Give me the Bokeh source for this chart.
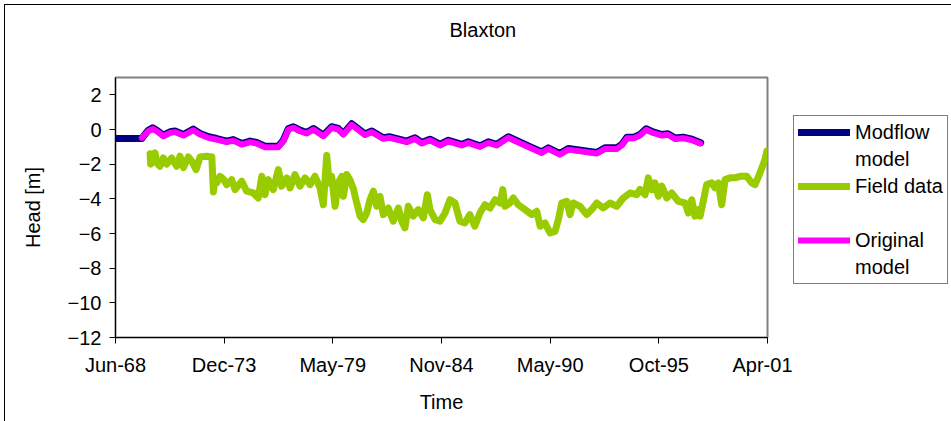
import pandas as pd
from bokeh.plotting import figure
from bokeh.layouts import row
from bokeh.models import Range1d, FixedTicker, Legend, LegendItem, ColumnDataSource
from bokeh.embed import file_html
from bokeh.resources import INLINE

title_text = "Blaxton"
x_label = "Time"
y_label = "Head [m]"

tick_dates = ["1968-06-13", "1973-12-02", "1979-05-25", "1984-11-15",
              "1990-05-08", "1995-10-29", "2001-04-19"]
tick_labels = ["Jun-68", "Dec-73", "May-79", "Nov-84", "May-90", "Oct-95", "Apr-01"]
y_ticks = [-12, -10, -8, -6, -4, -2, 0, 2]

# legend rows: (text, series) ; series None = continuation line / blank row
legend_rows = [("Modflow", "modflow"), ("model", None), ("Field data", "field"),
               (" ", None), ("Original", "original"), ("model", None)]

# times in decimal years, heads in m
orig_t = [1969.77, 1970.10, 1970.32, 1970.53, 1970.86, 1971.20, 1971.45, 1971.87, 1972.37,
          1972.71, 1973.13, 1973.55, 1974.05, 1974.38, 1974.81, 1975.23, 1975.56, 1975.98,
          1976.65, 1976.90, 1977.16, 1977.41, 1977.74, 1978.08, 1978.42, 1978.92, 1979.34,
          1979.67, 1979.93, 1980.35, 1981.02, 1981.36, 1981.94, 1982.28, 1983.12, 1983.54,
          1983.88, 1984.29, 1984.80, 1985.22, 1985.89, 1986.22, 1986.81, 1987.23, 1987.65,
          1988.24, 1989.08, 1989.92, 1990.25, 1990.84, 1991.26, 1992.69, 1993.11, 1993.71,
          1993.97, 1994.22, 1994.57, 1994.87, 1995.18, 1995.53, 1995.98, 1996.28, 1996.64,
          1997.04, 1997.49, 1997.90]
orig_v = [-0.48, -0.10, 0.04, -0.10, -0.39, -0.19, -0.15, -0.35, -0.04,
          -0.29, -0.48, -0.58, -0.73, -0.64, -0.87, -0.73, -0.81, -1.02,
          -1.02, -0.68, 0.00, 0.10, -0.10, -0.23, 0.00, -0.39, 0.10,
          0.00, -0.29, 0.27, -0.32, -0.15, -0.54, -0.48, -0.73, -0.54,
          -0.81, -0.62, -0.92, -0.68, -0.92, -0.77, -1.00, -0.77, -0.92,
          -0.48, -0.92, -1.35, -1.12, -1.45, -1.16, -1.39, -1.12, -1.12,
          -0.90, -0.50, -0.50, -0.35, -0.02, -0.20, -0.35, -0.30, -0.55,
          -0.50, -0.62, -0.80]

modf_t = [1968.45, 1969.77, 1970.10, 1970.32, 1970.53, 1970.86, 1971.20, 1971.45, 1971.87,
          1972.37, 1972.71, 1973.13, 1973.55, 1974.05, 1974.38, 1974.81, 1975.23, 1975.56,
          1975.98, 1976.65, 1976.90, 1977.16, 1977.41, 1977.74, 1978.08, 1978.42, 1978.92,
          1979.34, 1979.67, 1979.93, 1980.35, 1981.02, 1981.36, 1981.94, 1982.28, 1983.12,
          1983.54, 1983.88, 1984.29, 1984.80, 1985.22, 1985.89, 1986.22, 1986.81, 1987.23,
          1987.65, 1988.24, 1989.08, 1989.92, 1990.25, 1990.84, 1991.26, 1992.69, 1993.11,
          1993.71, 1993.97, 1994.22, 1994.57, 1994.87, 1995.18, 1995.53, 1995.98, 1996.28,
          1996.64, 1997.04, 1997.49, 1997.93]
modf_v = [-0.52, -0.52, -0.04, 0.10, -0.04, -0.33, -0.13, -0.09, -0.29,
          0.02, -0.23, -0.42, -0.52, -0.67, -0.58, -0.81, -0.67, -0.75,
          -0.96, -0.96, -0.62, 0.06, 0.16, -0.04, -0.17, 0.06, -0.33,
          0.16, 0.06, -0.23, 0.33, -0.26, -0.09, -0.48, -0.42, -0.67,
          -0.48, -0.75, -0.56, -0.86, -0.62, -0.86, -0.71, -0.94, -0.71,
          -0.86, -0.42, -0.86, -1.29, -1.06, -1.39, -1.10, -1.33, -1.06,
          -1.06, -0.84, -0.44, -0.44, -0.29, 0.04, -0.14, -0.29, -0.24,
          -0.49, -0.44, -0.56, -0.76]

field_t = [1970.19, 1970.22, 1970.44, 1970.53, 1970.69, 1970.86, 1971.03, 1971.28, 1971.53,
           1971.70, 1971.87, 1972.12, 1972.29, 1972.51, 1972.71, 1973.04, 1973.30, 1973.38,
           1973.45, 1973.55, 1973.71, 1973.88, 1974.05, 1974.30, 1974.47, 1974.81, 1975.06,
           1975.39, 1975.64, 1975.82, 1975.98, 1976.15, 1976.40, 1976.65, 1976.82, 1977.08,
           1977.24, 1977.49, 1977.74, 1978.00, 1978.25, 1978.50, 1978.75, 1978.92, 1979.09,
           1979.22, 1979.34, 1979.51, 1979.67, 1979.85, 1979.93, 1980.10, 1980.26, 1980.43,
           1980.60, 1980.77, 1980.93, 1981.10, 1981.27, 1981.44, 1981.61, 1981.77, 1981.94,
           1982.19, 1982.44, 1982.70, 1982.87, 1983.03, 1983.20, 1983.45, 1983.70, 1983.96,
           1984.16, 1984.29, 1984.55, 1984.80, 1985.05, 1985.30, 1985.55, 1985.80, 1986.05,
           1986.30, 1986.55, 1986.81, 1987.06, 1987.32, 1987.57, 1987.82, 1987.96, 1988.07,
           1988.32, 1988.49, 1988.74, 1989.08, 1989.42, 1989.67, 1989.84, 1990.09, 1990.34,
           1990.59, 1990.76, 1990.93, 1991.18, 1991.35, 1991.51, 1991.85, 1992.19, 1992.44,
           1992.69, 1993.02, 1993.36, 1993.70, 1994.03, 1994.37, 1994.71, 1994.87, 1995.13,
           1995.29, 1995.46, 1995.63, 1995.80, 1995.97, 1996.22, 1996.47, 1996.80, 1997.14,
           1997.31, 1997.48, 1997.64, 1997.81, 1997.90, 1998.06, 1998.23, 1998.49, 1998.65,
           1998.82, 1998.99, 1999.16, 1999.41, 1999.66, 1999.91, 2000.25, 2000.50, 2000.67,
           2000.92, 2001.17, 2001.26]
field_v = [-1.40, -2.00, -1.35, -1.93, -2.12, -1.64, -2.00, -1.64, -2.12,
           -1.54, -2.20, -1.58, -1.83, -2.31, -1.58, -1.54, -1.58, -3.60,
           -2.90, -3.08, -2.70, -2.85, -3.18, -2.89, -3.47, -2.99, -3.56,
           -3.66, -3.95, -2.70, -3.76, -2.89, -3.47, -2.31, -3.27, -2.79,
           -3.37, -2.60, -3.27, -2.79, -3.18, -2.70, -3.37, -4.34, -1.50,
           -3.08, -2.70, -4.43, -3.08, -2.70, -3.85, -2.60, -2.90, -3.40,
           -4.24, -5.00, -5.20, -4.82, -4.05, -3.56, -4.43, -3.85, -4.91,
           -4.53, -5.29, -4.53, -5.29, -5.68, -4.43, -5.00, -4.62, -5.10,
           -3.76, -4.62, -5.20, -5.29, -4.82, -4.05, -4.24, -5.29, -5.39,
           -4.91, -5.58, -4.82, -4.34, -4.53, -4.05, -4.24, -3.47, -4.43,
           -4.24, -3.95, -4.34, -4.62, -4.91, -4.72, -5.58, -5.39, -5.97,
           -5.88, -5.20, -4.24, -4.14, -4.91, -4.24, -4.43, -4.91, -4.62,
           -4.24, -4.53, -4.24, -4.43, -3.95, -3.66, -3.76, -3.45, -3.76,
           -2.79, -3.47, -3.08, -3.85, -3.27, -3.95, -3.66, -4.14, -4.24,
           -4.82, -4.05, -5.00, -4.62, -5.00, -4.14, -3.18, -3.08, -3.37,
           -3.08, -4.34, -2.89, -2.79, -2.79, -2.70, -2.70, -3.08, -3.18,
           -2.50, -1.73, -1.25]


def to_dt(years):
    out = []
    for y in years:
        yi = int(y)
        start = pd.Timestamp(yi, 1, 1)
        end = pd.Timestamp(yi + 1, 1, 1)
        out.append(start + (end - start) * (y - yi))
    return out


FONT = "Liberation Sans"
FS = "20px"
styles_by_series = {
    "modflow": dict(line_color="#000080", line_width=7),
    "field": dict(line_color="#99CC00", line_width=7),
    "original": dict(line_color="#FF00FF", line_width=6),
}

p = figure(width=787, height=416, x_axis_type="datetime",
           output_backend="svg", toolbar_location=None,
           x_range=Range1d(pd.Timestamp(tick_dates[0]), pd.Timestamp(tick_dates[-1])),
           y_range=Range1d(-12, 3),
           min_border_left=110, min_border_right=25,
           min_border_top=72, min_border_bottom=84)

p.background_fill_color = "white"
p.border_fill_color = "white"
p.outline_line_color = "#808080"
p.outline_line_width = 2
p.xgrid.visible = False
p.ygrid.visible = False

# title (a blank second line lifts it towards the top of the chart area)
p.title.text = title_text + "\n "
p.title.text_font = FONT
p.title.text_font_size = FS
p.title.text_font_style = "normal"
p.title.text_color = "black"
p.title.align = "left"
p.title.offset = 334
p.title.vertical_align = "top"
p.title.standoff = 26

tick_ms = [int(pd.Timestamp(d).value // 10**6) for d in tick_dates]
p.xaxis.ticker = FixedTicker(ticks=tick_ms)
p.xaxis.major_label_overrides = {t: lab for t, lab in zip(tick_ms, tick_labels)}
p.yaxis.ticker = FixedTicker(ticks=y_ticks)

for ax in (p.xaxis[0], p.yaxis[0]):
    ax.axis_line_color = "black"
    ax.axis_line_width = 1
    ax.major_tick_line_color = "black"
    ax.major_tick_in = 0
    ax.major_tick_out = 6
    ax.minor_tick_line_color = None
    ax.major_label_text_font = FONT
    ax.major_label_text_font_size = FS
    ax.major_label_text_color = "black"
    ax.axis_label_text_font = FONT
    ax.axis_label_text_font_size = FS
    ax.axis_label_text_font_style = "normal"
    ax.axis_label_text_color = "black"

p.xaxis.axis_label = x_label
p.yaxis.axis_label = y_label
p.xaxis.major_label_standoff = 10
p.xaxis.axis_label_standoff = 12
p.yaxis.major_label_standoff = 8
p.yaxis.axis_label_standoff = 21

src_m = ColumnDataSource(dict(x=to_dt(modf_t), y=modf_v))
src_f = ColumnDataSource(dict(x=to_dt(field_t), y=field_v))
src_o = ColumnDataSource(dict(x=to_dt(orig_t), y=orig_v))

p.line("x", "y", source=src_m, line_join="round", line_cap="round", **styles_by_series["modflow"])
p.line("x", "y", source=src_f, line_join="round", line_cap="round", **styles_by_series["field"])
p.line("x", "y", source=src_o, line_join="round", line_cap="round", **styles_by_series["original"])

# legend panel (separate figure to the right of the plot); its proxy
# renderers hold points outside the panel's ranges, so only the legend shows
p2 = figure(width=159, height=416, output_backend="svg", toolbar_location=None,
            x_axis_location=None, y_axis_location=None, min_border=0,
            x_range=Range1d(0, 1), y_range=Range1d(0, 1))
p2.outline_line_color = None
p2.xgrid.visible = False
p2.ygrid.visible = False
p2.background_fill_color = "white"
p2.border_fill_color = "white"

proxy = ColumnDataSource(dict(x=[5, 6], y=[5, 6]))
items = []
for text, series in legend_rows:
    if series is None:
        r = p2.line("x", "y", source=proxy, line_alpha=0)
    else:
        r = p2.line("x", "y", source=proxy, line_join="round", line_cap="round",
                    **styles_by_series[series])
    items.append(LegendItem(label=text, renderers=[r]))

legend = Legend(items=items, location=(1, 53))
legend.label_text_font = FONT
legend.label_text_font_size = FS
legend.label_text_color = "black"
legend.label_standoff = 5
legend.glyph_width = 52
legend.glyph_height = 24
legend.label_height = 24
legend.spacing = 3
legend.padding = 4
legend.margin = 0
legend.border_line_color = "black"
legend.border_line_width = 1
legend.background_fill_color = "white"
legend.background_fill_alpha = 1
p2.add_layout(legend, "center")

layout = row(p, p2, spacing=0)
layout.styles = {"margin-left": "4px", "margin-top": "4px",
                 "border-left": "1px solid black", "border-top": "1px solid black"}

open("out.html", "w").write(file_html(layout, INLINE))
